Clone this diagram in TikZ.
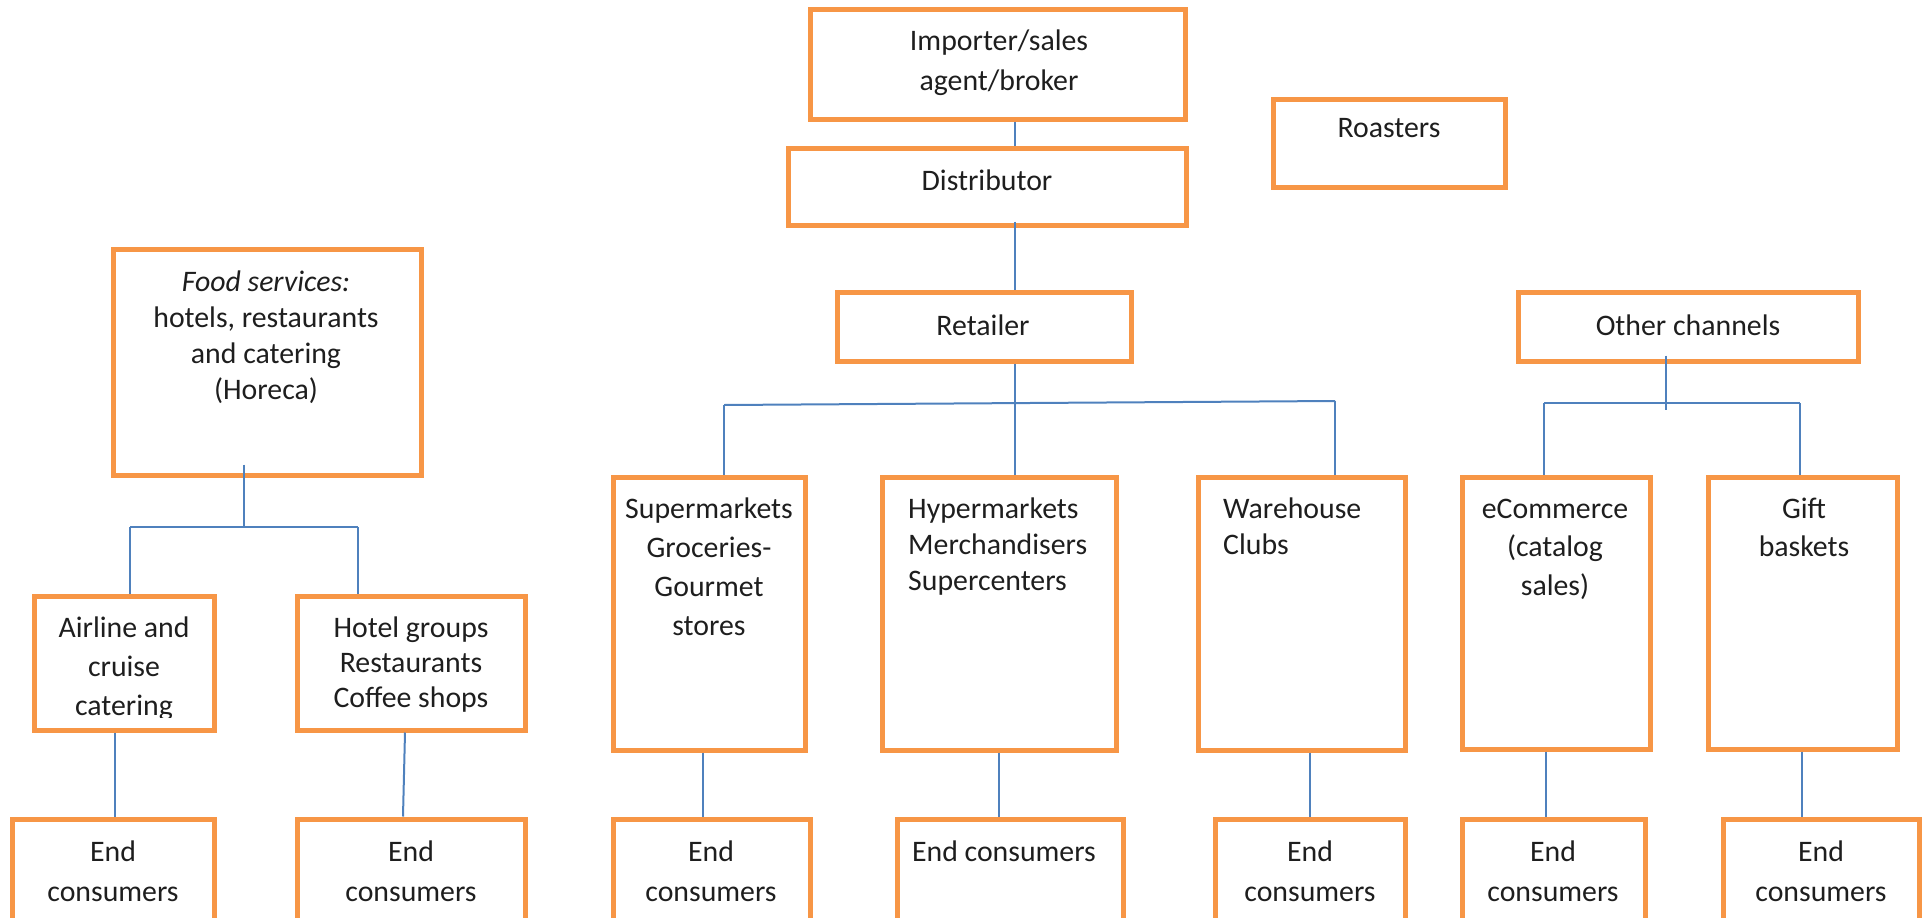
\documentclass[tikz,border=0pt]{standalone}
\usepackage{fontspec}
\setmainfont{Carlito}
\usetikzlibrary{calc}
\definecolor{boxorange}{RGB}{247,150,70}
\definecolor{linkblue}{RGB}{79,129,189}
\definecolor{inkdark}{RGB}{30,30,30}

\begin{document}
\begin{tikzpicture}[x=1pt,y=-1pt,
  box/.style={draw=boxorange, line width=5pt, rectangle, inner sep=0pt},
  link/.style={draw=linkblue, line width=2pt},
  lbl/.style={inner sep=0pt, text=inkdark, font=\fontsize{29.8}{#1}\selectfont, align=center, anchor=north},
  lbl/.default=38,
  lbll/.style={lbl=#1, align=left, anchor=north west},
  lbll/.default=36,
]
\useasboundingbox (0,0) rectangle (1931,918);
\clip (0,0) rectangle (1931,918);

% ---------- boxes ----------
\node[box, minimum width=375, minimum height=110] (imp)  at (997.5,64)   {};
\node[box, minimum width=232, minimum height=88]  (roast) at (1389,143)  {};
\node[box, minimum width=398, minimum height=77]  (dist) at (987,186.5)  {};
\node[box, minimum width=308, minimum height=226] (food) at (267,362)    {};
\node[box, minimum width=294, minimum height=69]  (ret)  at (984,326.5)  {};
\node[box, minimum width=340, minimum height=69]  (oth)  at (1688,326.5) {};
\node[box, minimum width=180, minimum height=134] (air)  at (124,663)    {};
\node[box, minimum width=228, minimum height=134] (hot)  at (411,663)    {};
\node[box, minimum width=192, minimum height=273] (sup)  at (709,613.5)  {};
\node[box, minimum width=234, minimum height=273] (hyp)  at (999,613.5)  {};
\node[box, minimum width=207, minimum height=273] (war)  at (1301.5,613.5) {};
\node[box, minimum width=188, minimum height=272] (eco)  at (1556,613)   {};
\node[box, minimum width=189, minimum height=272] (gift) at (1802.5,613) {};
% end consumers row
\node[box, minimum width=202, minimum height=116] (e1) at (113,877)    {};
\node[box, minimum width=228, minimum height=116] (e2) at (411,877)    {};
\node[box, minimum width=197, minimum height=116] (e3) at (711.5,877)  {};
\node[box, minimum width=226, minimum height=116] (e4) at (1010,877)   {};
\node[box, minimum width=190, minimum height=116] (e5) at (1310,877)   {};
\node[box, minimum width=183, minimum height=116] (e6) at (1553.5,877) {};
\node[box, minimum width=196, minimum height=116] (e7) at (1821,877)   {};

% ---------- texts ----------
\node[lbl=40] (imp-t)   at (999,22)     {\strut Importer/sales\\agent/broker};
\node[lbl]    (roast-t) at (1389,110.4) {\strut Roasters};
\node[lbl]    (dist-t)  at (987,163.4)  {\strut Distributor};
\node[lbl=36] (food-t)  at (266,265.8)  {\strut\textit{Food services:}\\hotels, restaurants\\and catering\\(Horeca)};
\node[lbl]    (ret-t)   at (983,308.4)  {\strut Retailer};
\node[lbl]    (oth-t)   at (1688,308.4) {\strut Other channels};
\begin{scope}
  \clip (34,580) rectangle (214,717);
  \node[lbl=39] (air-t) at (124,609.7) {\strut Airline and\\cruise\\catering};
\end{scope}
\node[lbl=35] (hot-t)   at (411,612.5)  {\strut Hotel groups\\Restaurants\\Coffee shops};
\node[lbl=39] (sup-t)   at (709,490.7)  {\strut Supermarkets\\Groceries-\\Gourmet\\stores};
\node[lbll=36] (hyp-t)  at (908,492.8)  {\strut Hypermarkets\\Merchandisers\\Supercenters};
\node[lbll=36] (war-t)  at (1223,492.8) {\strut Warehouse\\Clubs};
\node[lbl=38.5] (eco-t) at (1555,491)   {\strut eCommerce\\(catalog\\sales)};
\node[lbl=38.5] (gift-t) at (1804,491)  {\strut Gift\\baskets};
\node[lbl=40] (e1-t) at (113,833)  {\strut End\\consumers};
\node[lbl=40] (e2-t) at (411,833)  {\strut End\\consumers};
\node[lbl=40] (e3-t) at (711,833)  {\strut End\\consumers};
\node[lbl=40] (e4-t) at (1004,833) {\strut End consumers};
\node[lbl=40] (e5-t) at (1310,833) {\strut End\\consumers};
\node[lbl=40] (e6-t) at (1553,833) {\strut End\\consumers};
\node[lbl=40] (e7-t) at (1821,833) {\strut End\\consumers};

% ---------- connectors ----------
\coordinate (mainx) at (1015,0);
\draw[link] (mainx |- imp.south) -- (mainx |- dist.north);
\draw[link] ($(mainx |- dist.south)+(0,-6)$) -- (mainx |- ret.north);
\draw[link] (mainx |- ret.south) -- (mainx |- hyp.north);
% retail branch bar
\coordinate (rl) at (724,405);
\coordinate (rr) at (1335,401);
\draw[link] (rl) -- (rr);
\draw[link] (rl) -- (rl |- sup.north);
\draw[link] (rr) -- (rr |- war.north);
% food service branch
\coordinate (fx) at (244,0);
\coordinate (fl) at (130,527);
\coordinate (fr) at (358,527);
\draw[link] ($(fx |- food.south)+(0,-13)$) -- (fx |- fl);
\draw[link] (fl) -- (fr);
\draw[link] (fl) -- (fl |- air.north);
\draw[link] (fr) -- (fr |- hot.north);
% other channels branch
\coordinate (ox) at (1666,0);
\coordinate (ol) at (1544,403);
\coordinate (or) at (1800,403);
\draw[link] ($(ox |- oth.south)+(0,-8)$) -- (1666,410);
\draw[link] (ol) -- (or);
\draw[link] (ol) -- (ol |- eco.north);
\draw[link] (or) -- (or |- gift.north);
% down to end consumers
\draw[link] (115,0 |- air.south) -- (115,0 |- e1.north);
\draw[link] (405,0 |- hot.south) -- (403,0 |- e2.north);
\draw[link] (703,0 |- sup.south) -- (703,0 |- e3.north);
\draw[link] (999,0 |- hyp.south) -- (999,0 |- e4.north);
\draw[link] (1310,0 |- war.south) -- (1310,0 |- e5.north);
\draw[link] (1546,0 |- eco.south) -- (1546,0 |- e6.north);
\draw[link] (1802,0 |- gift.south) -- (1802,0 |- e7.north);
\end{tikzpicture}
\end{document}
